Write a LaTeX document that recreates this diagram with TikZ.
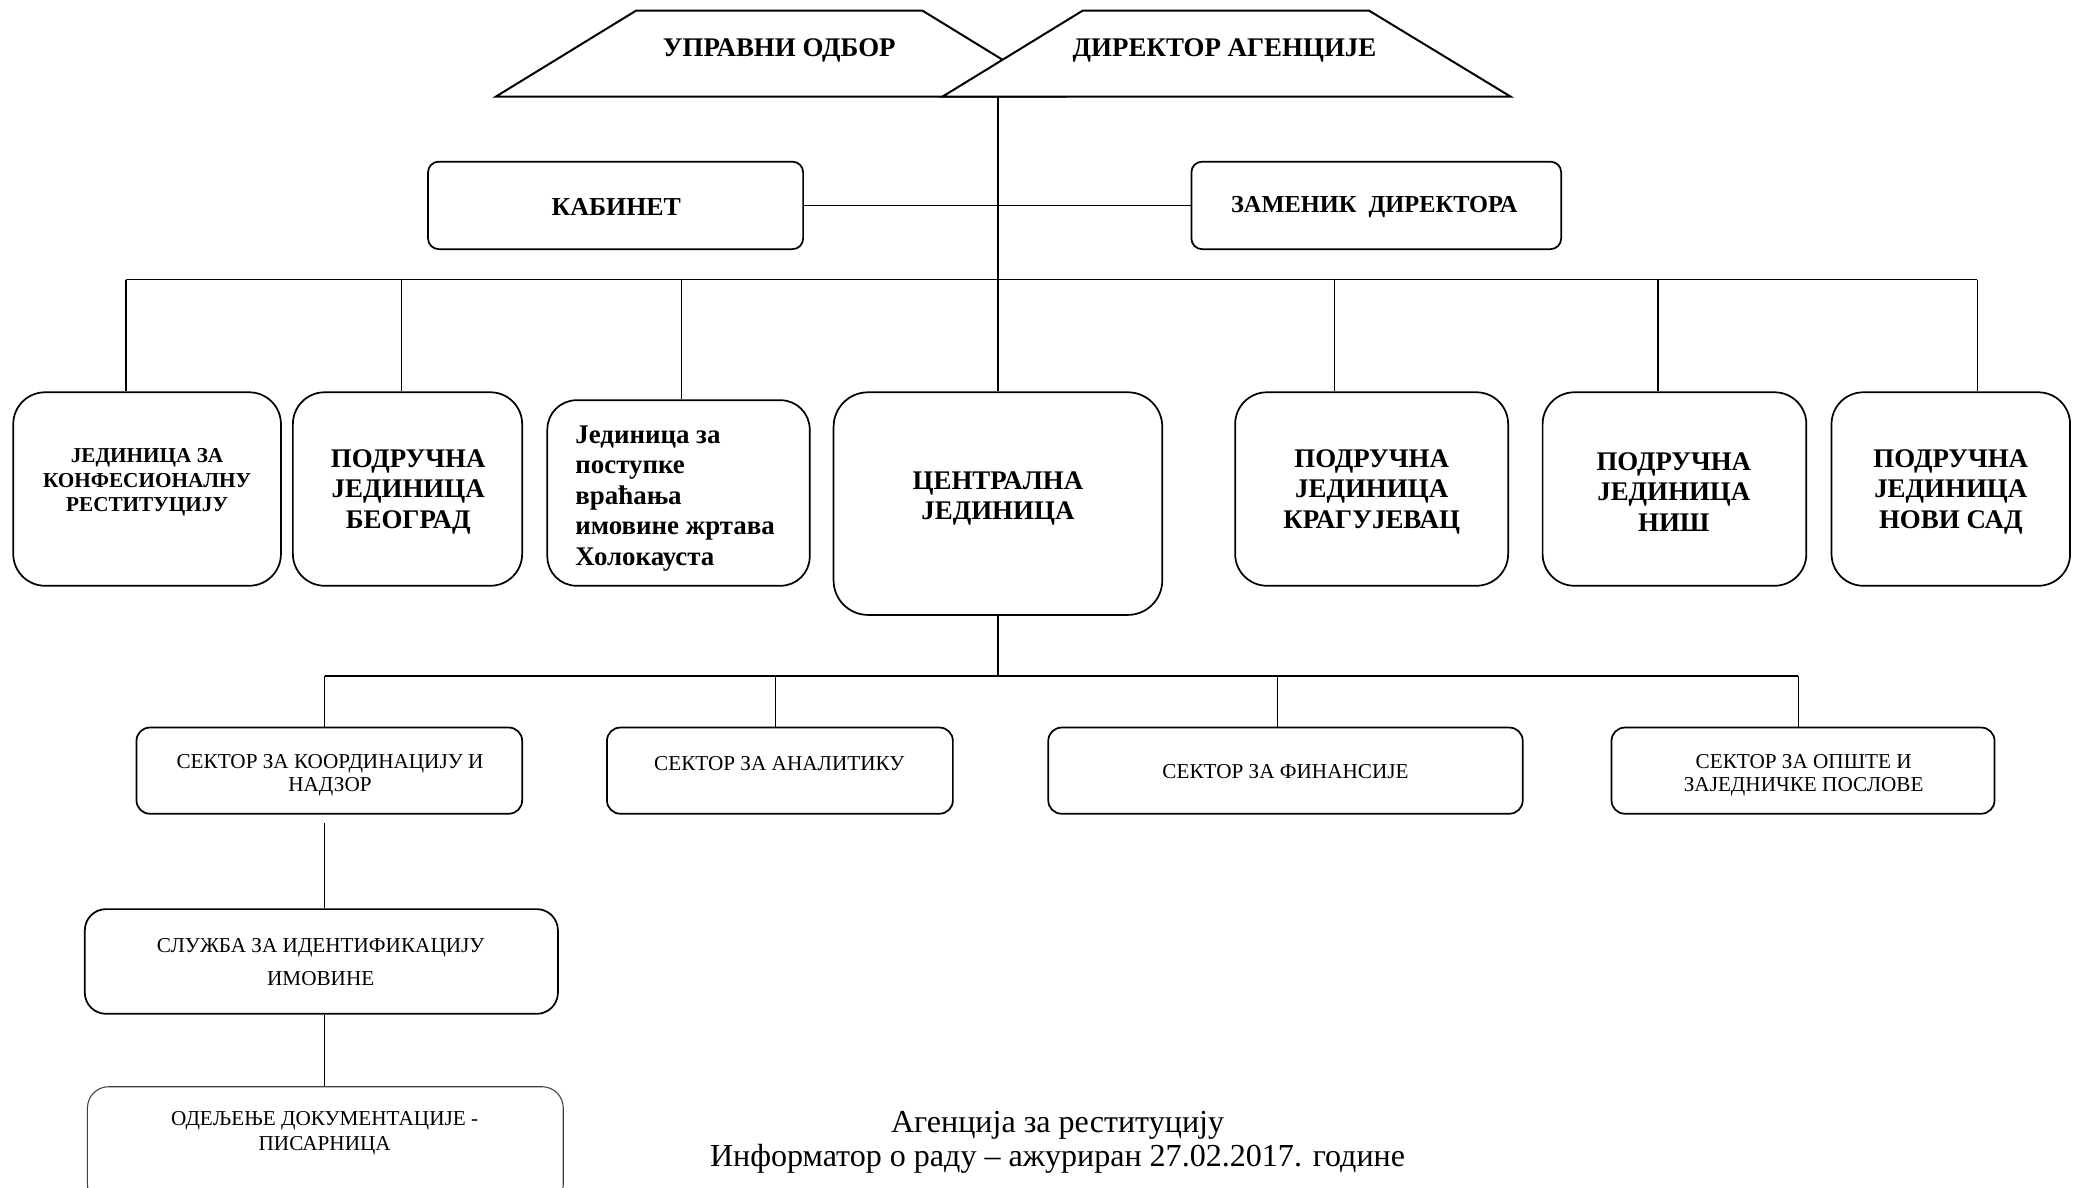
\documentclass[tikz,border=0pt]{standalone}
\usepackage{fontspec}
\setmainfont{Liberation Serif}
\begin{document}
\begin{tikzpicture}[x=1pt,y=-1pt,
  box/.style={draw, line width=1.3pt, fill=white, inner sep=0pt},
  trap/.style={draw, line width=1.5pt, fill=white, line join=miter},
  conn/.style={line width=1pt},
  bigb/.style={font=\fontsize{20.3pt}{23pt}\selectfont\bfseries, align=center, inner sep=0pt},
  smallb/.style={font=\fontsize{16pt}{18.5pt}\selectfont\bfseries, align=center, inner sep=0pt},
  reg/.style={font=\fontsize{16pt}{18pt}\selectfont, align=center, inner sep=0pt},
]
\useasboundingbox (0,0) rectangle (1568,896);
\fill[white] (0,0) rectangle (1568,896);

% top trapezoids
\draw[trap] (374,73) -- (480,8) -- (696,8) -- (802,73) -- cycle;
\draw[trap] (711,73) -- (817,8) -- (1033,8) -- (1140,73) -- cycle;
\node[bigb] (upr) at (588,38) {УПРАВНИ ОДБОР};
\node[bigb] (dir) at (924,38) {ДИРЕКТОР АГЕНЦИЈЕ};
\coordinate (dirb) at (753,73);

% boxes
\node[box, rounded corners=8pt, minimum width=283pt, minimum height=66pt] (kab) at (464.5,155) {};
\node[box, rounded corners=8pt, minimum width=279pt, minimum height=66pt] (zam) at (1038.5,155) {};
\node[box, rounded corners=24pt, minimum width=202pt, minimum height=146pt] (b1) at (111,369) {};
\node[box, rounded corners=24pt, minimum width=173pt, minimum height=146pt] (b2) at (307.5,369) {};
\node[box, rounded corners=22pt, minimum width=198pt, minimum height=140pt] (b3) at (512,372) {};
\node[box, rounded corners=26pt, minimum width=248pt, minimum height=168pt] (cen) at (753,380) {};
\node[box, rounded corners=24pt, minimum width=206pt, minimum height=146pt] (kg) at (1035,369) {};
\node[box, rounded corners=24pt, minimum width=199pt, minimum height=146pt] (ni) at (1263.5,369) {};
\node[box, rounded corners=24pt, minimum width=180pt, minimum height=146pt] (ns) at (1472,369) {};

\node[box, rounded corners=10pt, minimum width=291pt, minimum height=65pt] (s1) at (248.5,581.5) {};
\node[box, rounded corners=10pt, minimum width=261pt, minimum height=65pt] (s2) at (588.5,581.5) {};
\node[box, rounded corners=10pt, minimum width=358pt, minimum height=65pt] (s3) at (970,581.5) {};
\node[box, rounded corners=10pt, minimum width=289pt, minimum height=65pt] (s4) at (1360.5,581.5) {};
\node[box, rounded corners=16pt, minimum width=357pt, minimum height=79pt] (sl) at (242.5,725.5) {};
\node[box, line width=0.8pt, draw=black!75, rounded corners=16pt, minimum width=359pt, minimum height=90pt] (od) at (245.5,865) {};

% texts
\node[bigb, font=\fontsize{19.5pt}{23pt}\selectfont\bfseries] (kabt) at (465,156) {КАБИНЕТ};
\node[bigb, font=\fontsize{18.4pt}{23pt}\selectfont\bfseries] (zamt) at (1037,156) {ЗАМЕНИК\ \ ДИРЕКТОРА};
\node[smallb] (b1t) at (111,364) {ЈЕДИНИЦА ЗА\\КОНФЕСИОНАЛНУ\\РЕСТИТУЦИЈУ};
\node[bigb] (b2t) at (308,371) {ПОДРУЧНА\\ЈЕДИНИЦА\\БЕОГРАД};
\node[bigb, align=left, anchor=west] (b3t) at (434,376) {Јединица за\\поступке\\враћања\\имовине жртава\\Холокауста};
\node[bigb] (cent) at (753,376) {ЦЕНТРАЛНА\\ЈЕДИНИЦА};
\node[bigb] (kgt) at (1035,371) {ПОДРУЧНА\\ЈЕДИНИЦА\\КРАГУЈЕВАЦ};
\node[bigb] (nit) at (1263,371) {ПОДРУЧНА\\ЈЕДИНИЦА\\НИШ};
\node[bigb] (nst) at (1472,371) {ПОДРУЧНА\\ЈЕДИНИЦА\\НОВИ САД};
\node[reg] (s1t) at (249,585) {СЕКТОР ЗА КООРДИНАЦИЈУ И\\НАДЗОР};
\node[reg] (s2t) at (588,576) {СЕКТОР ЗА АНАЛИТИКУ};
\node[reg] (s3t) at (970,582) {СЕКТОР ЗА ФИНАНСИЈЕ};
\node[reg] (s4t) at (1361,585) {СЕКТОР ЗА ОПШТЕ И\\ЗАЈЕДНИЧКЕ ПОСЛОВЕ};
\node[reg, font=\fontsize{16pt}{25pt}\selectfont] (slt) at (242,726) {СЛУЖБА ЗА ИДЕНТИФИКАЦИЈУ\\ИМОВИНЕ};
\node[reg, font=\fontsize{16pt}{19pt}\selectfont] (odt) at (245,855) {ОДЕЉЕЊЕ ДОКУМЕНТАЦИЈЕ -\\ПИСАРНИЦА};
\node[align=center, inner sep=0pt, font=\fontsize{24.2pt}{25.5pt}\selectfont] (foot) at (798,862) {Агенција за реституцију\\Информатор о раду – ажуриран 27.02.2017. године};

% connectors
\draw[conn] (dirb) -- (cen.north);
\draw[conn] (kab.east) -- (zam.west);
\coordinate (t1) at (95,211);
\coordinate (t2) at (303,211);
\coordinate (t3) at (514,211);
\coordinate (t5) at (1007,211);
\coordinate (t6) at (1251,211);
\coordinate (t7) at (1492,211);
\draw[conn] (t1) -- (t7);
\draw[conn] (t1) -- (t1 |- b1.north);
\draw[conn] (t2) -- (t2 |- b2.north);
\draw[conn] (t3) -- (t3 |- b3.north);
\draw[conn] (t5) -- (t5 |- kg.north);
\draw[conn] (t6) -- (t6 |- ni.north);
\draw[conn] (t7) -- (t7 |- ns.north);

\coordinate (u1) at (245,510);
\coordinate (u2) at (585,510);
\coordinate (u3) at (964,510);
\coordinate (u4) at (1357,510);
\draw[conn] (cen.south) -- (cen.south |- u1);
\draw[conn] (u1) -- (u4);
\draw[conn] (u1) -- (u1 |- s1.north);
\draw[conn] (u2) -- (u2 |- s2.north);
\draw[conn] (u3) -- (u3 |- s3.north);
\draw[conn] (u4) -- (u4 |- s4.north);
\draw[conn] (sl.north -| u1) -- ++(0,-64);
\draw[conn] (sl.south -| u1) -- (od.north -| u1);
\end{tikzpicture}
\end{document}
